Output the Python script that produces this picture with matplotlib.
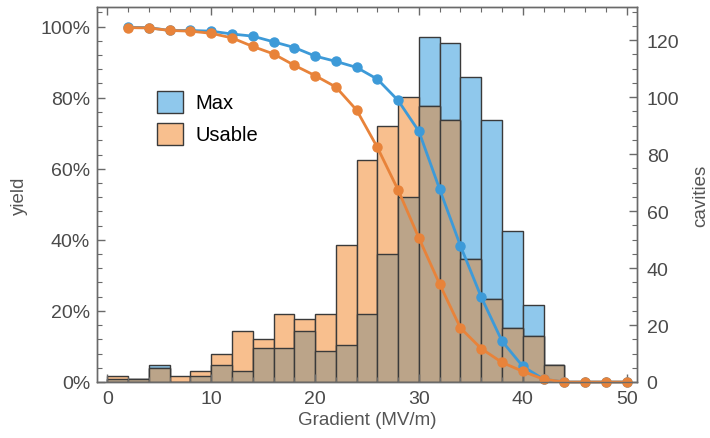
import numpy as np
import matplotlib.pyplot as plt
from matplotlib.patches import Patch
from matplotlib.ticker import MultipleLocator, FuncFormatter

plt.rcParams['font.family'] = ['Liberation Sans', 'DejaVu Sans']

# histogram bins (MV/m), 2 MV/m wide
bin_left = [0, 2, 4, 6, 8, 10, 12, 14, 16, 18, 20, 22, 24, 26, 28, 30, 32, 34, 36, 38, 40, 42]
max_counts = [1, 1, 6, 0, 2, 6, 4, 12, 12, 18, 11, 13, 24, 45, 65, 121, 119, 107, 92, 53, 27, 6]
usable_counts = [2, 1, 5, 2, 4, 10, 18, 15, 24, 22, 24, 48, 78, 90, 100, 97, 92, 43, 29, 19, 16, 6]

# yield curves
grad = [2, 4, 6, 8, 10, 12, 14, 16, 18, 20, 22, 24, 26, 28, 30, 32, 34, 36, 38, 40, 42, 44, 46, 48, 50]
max_yield = [0.998, 0.997, 0.989, 0.989, 0.987, 0.979, 0.973, 0.957, 0.941, 0.917, 0.902, 0.885, 0.852,
             0.792, 0.705, 0.542, 0.383, 0.239, 0.115, 0.044, 0.008, 0, 0, 0, 0]
usable_yield = [0.997, 0.996, 0.989, 0.987, 0.981, 0.968, 0.944, 0.923, 0.891, 0.862, 0.830, 0.765, 0.660,
                0.540, 0.405, 0.275, 0.152, 0.094, 0.055, 0.030, 0.008, 0, 0, 0, 0]

blue_fill = "#8fc8ec"
orange_fill = "#f8bf8e"
both_fill = "#bba489"
edge = "#3a3a3a"
blue_line = "#3d9ad8"
orange_line = "#e8833a"
frame = "#6a6a6a"
txt = "#4a4a4a"

fig = plt.figure(figsize=(7.1, 4.39), dpi=100)
ax = fig.add_axes([97 / 710, 56 / 439, 540 / 710, 375 / 439])
ax2 = ax.twinx()

# bars on the count axis
ax2.bar(bin_left, max_counts, width=2, align='edge', color=blue_fill, edgecolor=edge, linewidth=1)
ax2.bar(bin_left, usable_counts, width=2, align='edge', color=orange_fill, edgecolor=edge, linewidth=1)
ax2.bar(bin_left, np.minimum(max_counts, usable_counts), width=2, align='edge',
        color=both_fill, edgecolor=edge, linewidth=1)

# yield lines above the bars
ax.set_zorder(ax2.get_zorder() + 1)
ax.patch.set_visible(False)
ax.plot(grad, max_yield, color=blue_line, lw=2, marker='o', ms=6.5, clip_on=False)
ax.plot(grad, usable_yield, color=orange_line, lw=2, marker='o', ms=6.5, clip_on=False)

ax.set_xlim(-1, 51)
ax.set_ylim(0, 1.055)
ax2.set_ylim(0, 131.6)

ax.xaxis.set_major_locator(MultipleLocator(10))
ax.xaxis.set_minor_locator(MultipleLocator(2))
ax.yaxis.set_major_locator(MultipleLocator(0.2))
ax.yaxis.set_minor_locator(MultipleLocator(0.04))
ax.yaxis.set_major_formatter(FuncFormatter(lambda v, p: f"{v * 100:.0f}%"))
ax2.yaxis.set_major_locator(MultipleLocator(20))
ax2.yaxis.set_minor_locator(MultipleLocator(5))

ax.tick_params(which='both', direction='in', top=True, colors=frame, labelcolor=txt, labelsize=14)
ax.tick_params(which='major', length=6, width=1)
ax.tick_params(which='minor', length=3.5, width=0.8)
ax.tick_params(axis='x', pad=6)
ax.tick_params(axis='y', pad=5)
ax2.tick_params(which='both', direction='in', colors=frame, labelcolor=txt, labelsize=14, pad=7)
ax2.tick_params(which='major', length=6, width=1)
ax2.tick_params(which='minor', length=3.5, width=0.8)

for a in (ax, ax2):
    for s in a.spines.values():
        s.set_color(frame)
        s.set_linewidth(1)

ax.set_xlabel("Gradient (MV/m)", fontsize=13.5, color="#555555", labelpad=3)
ax.set_ylabel("yield", fontsize=13.5, color="#555555", labelpad=9)
ax2.set_ylabel("cavities", fontsize=13.5, color="#555555", labelpad=9)

handles = [Patch(facecolor=blue_fill, edgecolor=edge, label="Max"),
           Patch(facecolor=orange_fill, edgecolor=edge, label="Usable")]
ax.legend(handles=handles, loc='upper left', bbox_to_anchor=(0.078, 0.825), frameon=False,
          fontsize=14.5, handlelength=1.3, handleheight=1.3, handletextpad=0.6, labelspacing=0.5)

fig.savefig("out.png", dpi=100)
